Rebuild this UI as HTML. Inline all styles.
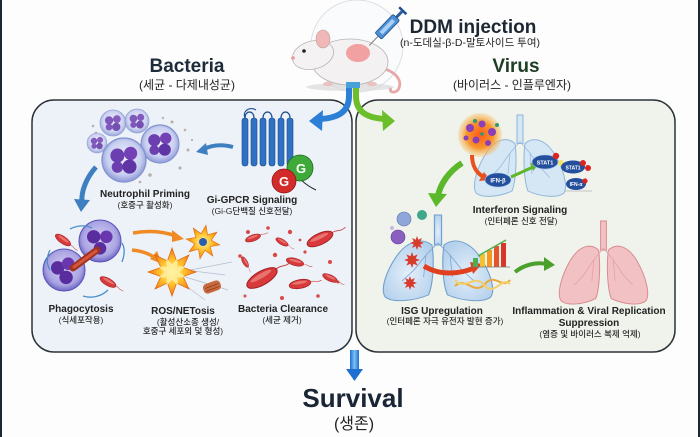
<!DOCTYPE html>
<html><head><meta charset="utf-8">
<style>
html,body{margin:0;padding:0;background:#fdfdfd;}
svg{display:block;}
text{font-family:"Liberation Sans","Noto Sans CJK KR",sans-serif;}
.lb{font-size:10px;font-weight:bold;fill:#222;}
.ks{font-size:8.5px;fill:#2a2a2a;font-weight:500;}
</style></head><body>
<svg width="700" height="437" viewBox="0 0 700 437" xmlns="http://www.w3.org/2000/svg">
<defs>
 <radialGradient id="cell" cx="50%" cy="45%" r="55%">
  <stop offset="0" stop-color="#f1f2fc"/><stop offset="0.7" stop-color="#c8cff0"/><stop offset="1" stop-color="#8c99d6"/>
 </radialGradient>
 <radialGradient id="pcell" cx="50%" cy="45%" r="55%">
  <stop offset="0" stop-color="#d9d3f3"/><stop offset="0.75" stop-color="#a9a3e3"/><stop offset="1" stop-color="#6d66c4"/>
 </radialGradient>
 <radialGradient id="burst" cx="50%" cy="50%" r="50%">
  <stop offset="0" stop-color="#fff6b0"/><stop offset="0.5" stop-color="#ffc22e"/><stop offset="1" stop-color="#f07a12"/>
 </radialGradient>
 <radialGradient id="vir" cx="50%" cy="50%" r="50%">
  <stop offset="0" stop-color="#ff5a1a"/><stop offset="0.6" stop-color="#f7962c"/><stop offset="1" stop-color="#f9c36a" stop-opacity="0.3"/>
 </radialGradient>
 <radialGradient id="lungb" cx="50%" cy="55%" r="60%">
  <stop offset="0" stop-color="#e4effa"/><stop offset="1" stop-color="#b3d0ec"/>
 </radialGradient>
 <linearGradient id="sv" x1="0" y1="0" x2="1" y2="0">
  <stop offset="0" stop-color="#1d6fd1"/><stop offset="0.5" stop-color="#7ec0f5"/><stop offset="1" stop-color="#1d6fd1"/>
 </linearGradient>
 <g id="neut">
  <circle r="10" fill="url(#cell)" stroke="#8593d0" stroke-width="0.6"/>
  <circle cx="-3" cy="-2" r="3.2" fill="#6b3fb0"/><circle cx="3" cy="-3" r="3" fill="#7440b5"/>
  <circle cx="2.5" cy="3" r="3.2" fill="#5f35a5"/><circle cx="-3" cy="3.2" r="2.6" fill="#6b3fb0"/>
 </g>
 <g id="bac">
  <path d="M9,0 c4,-2 6,2 11,0" stroke="#c44" fill="none" stroke-width="0.6"/>
  <ellipse rx="10" ry="4" fill="#d8393b" stroke="#9e1f22" stroke-width="0.6"/>
  <ellipse rx="7" ry="1.4" cy="-1.3" fill="#f08b86" opacity="0.7"/>
 </g>
 <polygon id="star" points="10,0 4.62,1.91 7.07,7.07 1.91,4.62 0,10 -1.91,4.62 -7.07,7.07 -4.62,1.91 -10,0 -4.62,-1.91 -7.07,-7.07 -1.91,-4.62 0,-10 1.91,-4.62 7.07,-7.07 4.62,-1.91"/>
 <g id="lobes">
  <path d="M45,30 C36,22 24,26 15,42 C6,58 2,75 6,82 C12,88 30,86 42,80 C46,70 47,45 45,30 Z"/>
  <path d="M55,30 C64,22 76,26 85,42 C94,58 98,75 94,82 C88,88 70,86 58,80 C54,70 53,45 55,30 Z"/>
  <path d="M47,0 L53,0 L53,30 L47,30 Z"/>
 </g>
 <path id="bron" d="M50,28 L40,40 L30,55 M40,40 L38,62 M30,55 L20,66 M50,28 L60,40 L70,55 M60,40 L62,62 M70,55 L80,66" fill="none"/>
</defs>

<!-- edges -->
<rect x="0" y="0" width="2" height="437" fill="#1b2733"/>
<rect x="698" y="0" width="2" height="437" fill="#1b2733"/>

<!-- panels -->
<rect x="32" y="100" width="320" height="252" rx="22" fill="#edf2f8" stroke="#2c3338" stroke-width="1.5"/>
<rect x="356" y="100" width="319" height="252" rx="22" fill="#eff3ec" stroke="#2c3338" stroke-width="1.5"/>

<!-- mouse -->
<circle cx="357" cy="46" r="46" fill="#fafbfc" stroke="#dcdfe3" stroke-width="1"/>
<ellipse cx="350" cy="87" rx="44" ry="4" fill="#d9d9d9" opacity="0.7"/>
<path d="M382,68 C396,72 402,80 399,88 C397,94 388,93 391,88" stroke="#e6a9a9" stroke-width="2.8" fill="none"/>
<ellipse cx="350" cy="62" rx="38" ry="23" fill="#f3f1f1" stroke="#b9b4b4" stroke-width="0.8"/>
<ellipse cx="313" cy="55" rx="21" ry="14" transform="rotate(-15 313 55)" fill="#f4f2f2" stroke="#b9b4b4" stroke-width="0.8"/>
<ellipse cx="323" cy="39" rx="7" ry="9" fill="#f1b7b7" stroke="#b9a0a0" stroke-width="0.6"/>
<circle cx="304" cy="51" r="1.8" fill="#222"/>
<circle cx="293" cy="58" r="1.8" fill="#e79a9a"/>
<ellipse cx="358" cy="53" rx="12" ry="9" fill="#ef7f7f" opacity="0.7"/>
<ellipse cx="328" cy="84" rx="5" ry="2.2" fill="#ebc0c0"/><ellipse cx="372" cy="84" rx="5" ry="2.2" fill="#ebc0c0"/>
<!-- syringe -->
<g transform="translate(388,26) rotate(-46)">
 <line x1="-14" y1="0" x2="-27" y2="0" stroke="#777" stroke-width="1"/>
 <rect x="-14" y="-4.5" width="26" height="9" rx="1.5" fill="#4d8fd6" stroke="#1f4f8c" stroke-width="0.8"/>
 <rect x="-10" y="-2" width="18" height="4" fill="#a8d2f5"/>
 <rect x="12" y="-1.5" width="8" height="3" fill="#2a5d9a"/>
 <rect x="20" y="-5" width="2.5" height="10" fill="#1f4f8c"/>
</g>

<!-- split arrows -->
<path d="M349,84 L349,96 C349,112 338,118 320,119" stroke="#2b7fd6" stroke-width="6" fill="none"/>
<polygon points="309,121 323,110 322,131" fill="#2b7fd6"/>
<path d="M356,84 L356,96 C356,112 367,118 385,119" stroke="#6cbf2a" stroke-width="6" fill="none"/>
<polygon points="395,121 382,110 383,131" fill="#6cbf2a"/>
<rect x="346" y="82" width="14" height="6" fill="#4aa0d8"/>

<!-- headings -->
<text x="473" y="33" text-anchor="middle" font-size="19" font-weight="bold" fill="#1c2733">DDM injection</text>
<text x="470" y="46" text-anchor="middle" font-size="10.5" fill="#222">(n-도데실-β-D-말토사이드 투여)</text>
<text x="187" y="72" text-anchor="middle" font-size="19" font-weight="bold" fill="#1d2b3a">Bacteria</text>
<text x="187" y="89" text-anchor="middle" font-size="12" fill="#222">(세균 - 다제내성균)</text>
<text x="516" y="72" text-anchor="middle" font-size="19" font-weight="bold" fill="#1f3d24">Virus</text>
<text x="512" y="89" text-anchor="middle" font-size="12" fill="#222">(바이러스 - 인플루엔자)</text>

<!-- LEFT PANEL -->
<g fill="#b9b0a8">
 <circle cx="172" cy="122" r="1.5"/><circle cx="185" cy="130" r="1.3"/><circle cx="188" cy="150" r="1.5"/><circle cx="180" cy="168" r="1.6"/>
 <circle cx="150" cy="175" r="1.8"/><circle cx="140" cy="182" r="1.3"/><circle cx="93" cy="126" r="1.3"/><circle cx="96" cy="133" r="1.4"/>
 <circle cx="163" cy="118" r="1.2"/><circle cx="192" cy="140" r="1.1"/>
</g>
<use href="#neut" transform="translate(113,123) scale(1.3)" opacity="0.85"/>
<use href="#neut" transform="translate(137,121) scale(1.2)" opacity="0.85"/>
<use href="#neut" transform="translate(97,143) scale(1.0)" opacity="0.85"/>
<use href="#neut" transform="translate(160,144) scale(1.9)"/>
<use href="#neut" transform="translate(124,160) scale(2.2)"/>
<!-- GPCR -->
<g fill="#2f72c4" stroke="#1b4c8c" stroke-width="0.6">
 <rect x="242" y="118" width="6" height="48" rx="2.5"/><rect x="251" y="118" width="6" height="48" rx="2.5"/>
 <rect x="260" y="118" width="6" height="48" rx="2.5"/><rect x="269" y="118" width="6" height="48" rx="2.5"/>
 <rect x="278" y="118" width="6" height="48" rx="2.5"/><rect x="287" y="118" width="6" height="48" rx="2.5"/>
</g>
<path d="M245,118 C245,110 254,110 254,118 M263,118 C263,110 272,110 272,118 M281,118 C281,110 290,110 290,118 M245,118 C242,111 250,106 256,110" stroke="#1b4c8c" stroke-width="1.2" fill="none"/>
<path d="M290,166 C296,176 305,185 316,190" stroke="#222" stroke-width="1" fill="none"/>
<circle cx="300" cy="168" r="13" fill="#3daa3a" stroke="#1f6a1d" stroke-width="0.8"/>
<text x="301" y="173" text-anchor="middle" font-size="13" font-weight="bold" fill="#fff">G</text>
<circle cx="284" cy="181" r="12" fill="#d32a2a" stroke="#8d1717" stroke-width="0.8"/>
<text x="284" y="186" text-anchor="middle" font-size="13" font-weight="bold" fill="#fff">G</text>
<path d="M233,147 C222,144 212,145 204,149" stroke="#3d7fc0" stroke-width="4" fill="none"/>
<polygon points="196,152 206,143 208,155" fill="#3d7fc0"/>
<path d="M96,167 C86,178 81,192 82,202" stroke="#3d7fc0" stroke-width="5" fill="none"/>
<polygon points="81,212 74,199 90,200" fill="#3d7fc0"/>
<!-- phagocytosis -->
<use href="#bac" transform="translate(63,240) rotate(35) scale(0.9)"/>
<use href="#bac" transform="translate(108,282) rotate(30) scale(0.9)"/>
<g transform="translate(100,241) scale(2.1)"><circle r="10" fill="url(#pcell)" stroke="#5a54b8" stroke-width="0.5"/><circle cx="-3" cy="-2" r="3.2" fill="#5a2d9f"/><circle cx="3" cy="-2" r="3" fill="#6a36ad"/><circle cx="0" cy="3.5" r="3" fill="#5a2d9f"/></g>
<g transform="translate(64,270) scale(2.1)"><circle r="10" fill="url(#pcell)" stroke="#5a54b8" stroke-width="0.5"/><circle cx="-3" cy="-1" r="3.2" fill="#5a2d9f"/><circle cx="2" cy="-3" r="3" fill="#6a36ad"/><circle cx="1" cy="3.5" r="3.2" fill="#5a2d9f"/></g>
<line x1="73" y1="268" x2="97" y2="250" stroke="#a2321f" stroke-width="7" stroke-linecap="round"/>
<line x1="74" y1="267" x2="96" y2="251" stroke="#d4573c" stroke-width="3" stroke-linecap="round"/>
<g stroke="#4a90c8" stroke-width="1.3" fill="none">
 <path d="M70,229 C78,225 86,225 92,228"/><path d="M50,250 C46,258 47,265 50,270"/><path d="M83,296 C92,299 102,296 108,290"/><path d="M122,262 C125,254 125,248 122,243"/>
</g>
<path d="M133,233 C150,230 165,232 176,236" stroke="#f08a24" stroke-width="3.5" fill="none"/>
<polygon points="184,239 172,230 172,242" fill="#f08a24"/>
<path d="M132,250 C142,251 150,254 155,258" stroke="#f08a24" stroke-width="3.5" fill="none"/>
<polygon points="162,264 150,259 157,251" fill="#f08a24"/>
<g stroke="#b5bccd" stroke-width="0.7"><line x1="180" y1="272" x2="232" y2="262"/><line x1="182" y1="276" x2="228" y2="290"/><line x1="178" y1="280" x2="205" y2="300"/><line x1="185" y1="270" x2="225" y2="275"/></g>
<use href="#star" transform="translate(203,242) scale(1.7) rotate(10)" fill="url(#burst)" stroke="#e07412" stroke-width="0.4"/>
<circle cx="203" cy="242" r="4" fill="#2a5fb0"/>
<use href="#star" transform="translate(172,272) scale(2.4)" fill="url(#burst)" stroke="#e06010" stroke-width="0.3"/>
<use href="#star" transform="translate(172,272) scale(1.5) rotate(22)" fill="#fff1a0" opacity="0.8"/>
<g transform="translate(212,287) rotate(-20)"><rect x="-9" y="-5" width="18" height="10" rx="4" fill="#c86a3e"/><line x1="-7" y1="-1" x2="7" y2="-1" stroke="#8d3f1f" stroke-width="0.8"/><line x1="-7" y1="2" x2="7" y2="2" stroke="#8d3f1f" stroke-width="0.8"/></g>
<g fill="#d9494a">
 <circle cx="248" cy="232" r="2"/><circle cx="268" cy="228" r="1.8"/><circle cx="290" cy="232" r="2.2"/><circle cx="305" cy="252" r="1.6"/>
 <circle cx="275" cy="255" r="2.2"/><circle cx="240" cy="256" r="1.8"/><circle cx="330" cy="262" r="2"/><circle cx="318" cy="296" r="1.8"/>
 <circle cx="338" cy="282" r="1.5"/><circle cx="245" cy="296" r="1.5"/><circle cx="282" cy="298" r="2"/><circle cx="300" cy="240" r="1.4"/>
</g>
<use href="#bac" transform="translate(253,238) rotate(-20) scale(0.8)"/>
<use href="#bac" transform="translate(282,242) rotate(30) scale(0.7)"/>
<use href="#bac" transform="translate(320,239) rotate(-25) scale(1.4)"/>
<use href="#bac" transform="translate(295,262) rotate(15) scale(0.9)"/>
<use href="#bac" transform="translate(262,278) rotate(-30) scale(1.7)"/>
<use href="#bac" transform="translate(300,284) rotate(-10) scale(1.1)"/>
<use href="#bac" transform="translate(330,278) rotate(25) scale(0.8)"/>
<use href="#bac" transform="translate(245,262) rotate(60) scale(0.6)"/>
<text class="lb" x="145" y="197" text-anchor="middle">Neutrophil Priming</text>
<text class="ks" x="145" y="208" text-anchor="middle">(호중구 활성화)</text>
<text class="lb" x="252" y="203" text-anchor="middle">Gi-GPCR Signaling</text>
<text class="ks" x="252" y="214" text-anchor="middle">(Gi-G단백질 신호전달)</text>
<text class="lb" x="81" y="312" text-anchor="middle">Phagocytosis</text>
<text class="ks" x="81" y="323" text-anchor="middle">(식세포작용)</text>
<text class="lb" x="183" y="314" text-anchor="middle">ROS/NETosis</text>
<text class="ks" x="188" y="325" text-anchor="middle">(활성산소종 생성/</text>
<text class="ks" x="183" y="334" text-anchor="middle">호중구 세포외 덫 형성)</text>
<text class="lb" x="283" y="312" text-anchor="middle">Bacteria Clearance</text>
<text class="ks" x="282" y="323" text-anchor="middle">(세균 제거)</text>

<!-- RIGHT PANEL -->
<g transform="translate(470,115) scale(1.0,0.95)">
 <use href="#lobes" fill="#d5e6f5" stroke="#8fb6da" stroke-width="1"/>
 <use href="#bron" stroke="#9cbde0" stroke-width="0.8"/>
</g>
<circle cx="480" cy="135" r="22" fill="url(#vir)"/>
<g fill="#8a3fb8"><circle cx="470" cy="128" r="4"/><circle cx="482" cy="124" r="3.5"/><circle cx="492" cy="132" r="4"/><circle cx="476" cy="140" r="3.5"/><circle cx="488" cy="143" r="3"/><circle cx="466" cy="138" r="2.5"/></g>
<g fill="#2a9a7a"><circle cx="475" cy="121" r="2"/><circle cx="497" cy="125" r="2"/><circle cx="482" cy="134" r="1.8"/></g>
<path d="M472,155 C472,165 476,173 484,177" stroke="#e8501e" stroke-width="4" fill="none"/>
<polygon points="490,180 479,181 484,172" fill="#e8501e"/>
<path d="M511,177 L533,167" stroke="#5fb52b" stroke-width="3" fill="none"/>
<polygon points="539,164 530,163 533,171" fill="#5fb52b"/>
<ellipse cx="498" cy="180" rx="13" ry="7" fill="#234f9c" stroke="#9fc0ea" stroke-width="0.6"/>
<text x="498" y="182.5" text-anchor="middle" font-size="6" font-weight="bold" fill="#fff">IFN-β</text>
<ellipse cx="545" cy="162" rx="13" ry="7" fill="#234f9c" stroke="#9fc0ea" stroke-width="0.6"/>
<text x="545" y="164.5" text-anchor="middle" font-size="5.5" font-weight="bold" fill="#fff">STAT1</text>
<circle cx="556" cy="156" r="3.2" fill="#d22"/>
<circle cx="561" cy="163" r="3" fill="#f6e36a"/>
<ellipse cx="573" cy="167" rx="12" ry="6.5" fill="#234f9c"/>
<text x="573" y="169.5" text-anchor="middle" font-size="5" font-weight="bold" fill="#fff">STAT1</text>
<circle cx="583" cy="163" r="3" fill="#d22"/><circle cx="588" cy="168" r="3" fill="#d22"/>
<ellipse cx="576" cy="184" rx="10" ry="6" fill="#234f9c"/>
<text x="576" y="186" text-anchor="middle" font-size="5" font-weight="bold" fill="#fff">IFN-α</text>
<circle cx="585" cy="181" r="2.6" fill="#d22"/>
<line x1="565" y1="191" x2="592" y2="191" stroke="#999" stroke-width="0.5"/>
<path d="M462,163 C448,172 440,185 438,196" stroke="#5cb82b" stroke-width="6" fill="none"/>
<polygon points="436,207 428,193 447,194" fill="#5cb82b"/>
<!-- bottom lungs -->
<g transform="translate(378,215) scale(1.2,1.0)">
 <use href="#lobes" fill="url(#lungb)" stroke="#6f9dcc" stroke-width="0.9"/>
 <use href="#bron" stroke="#7ea6d4" stroke-width="0.7"/>
</g>
<g fill="#d83a2c"><use href="#star" transform="translate(417,243) scale(0.7)"/><use href="#star" transform="translate(412,260) scale(0.8)"/><use href="#star" transform="translate(410,283) scale(0.7)"/></g>
<circle cx="398" cy="237" r="7" fill="#8a5fc0" stroke="#5b3a95" stroke-width="0.6"/>
<circle cx="404" cy="219" r="7" fill="#8fa6d8" stroke="#5b6fa5" stroke-width="0.6"/>
<circle cx="422" cy="215" r="5" fill="#3fa78a"/>
<circle cx="392" cy="228" r="2" fill="#c8b8e0"/>
<path d="M424,266 C440,276 460,274 474,268" stroke="#e0401e" stroke-width="5" fill="none"/>
<polygon points="482,264 470,262 473,274" fill="#e0401e"/>
<g>
 <rect x="473" y="258" width="5" height="9" fill="#4caf50"/>
 <rect x="480" y="254" width="5" height="13" fill="#f2c230"/>
 <rect x="487" y="250" width="5" height="17" fill="#f39a1e"/>
 <rect x="494" y="246" width="5" height="21" fill="#e8542a"/>
 <rect x="501" y="243" width="5" height="24" fill="#d9362a"/>
 <line x1="471" y1="267" x2="510" y2="267" stroke="#777" stroke-width="0.8"/>
 <path d="M478,256 L492,248 L506,240" stroke="#4caf50" stroke-width="1.5" fill="none"/>
</g>
<path d="M455,286 C465,276 475,296 485,284 C495,272 502,290 510,280" stroke="#e9a93a" stroke-width="2" fill="none"/>
<path d="M455,280 C465,292 475,272 485,286 C495,296 502,276 510,284" stroke="#f3cf6a" stroke-width="2" fill="none"/>
<path d="M515,272 C525,264 538,262 546,264" stroke="#4aa02a" stroke-width="4" fill="none"/>
<polygon points="555,265 544,257 544,271" fill="#4aa02a"/>
<g transform="translate(555,221) scale(0.97,0.97)">
 <use href="#lobes" fill="#f2c1c3" stroke="#d98a90" stroke-width="1"/>
 <use href="#bron" stroke="#e2a0a6" stroke-width="0.8"/>
</g>
<text class="lb" x="520" y="213" text-anchor="middle">Interferon Signaling</text>
<text class="ks" x="521" y="224" text-anchor="middle">(인터페론 신호 전달)</text>
<text class="lb" x="442" y="314" text-anchor="middle">ISG Upregulation</text>
<text class="ks" x="445" y="324" text-anchor="middle">(인터페론 자극 유전자 발현 증가)</text>
<text class="lb" x="589" y="314" text-anchor="middle">Inflammation &amp; Viral Replication</text>
<text class="lb" x="589" y="326" text-anchor="middle">Suppression</text>
<text class="ks" x="590" y="337" text-anchor="middle">(염증 및 바이러스 복제 억제)</text>

<!-- survival -->
<rect x="350" y="350" width="9" height="21" fill="url(#sv)"/>
<polygon points="346,369 363,369 354.5,381" fill="#1d6fd1"/>
<text x="353" y="407" text-anchor="middle" font-size="26" font-weight="bold" fill="#1a2636">Survival</text>
<text x="354" y="429" text-anchor="middle" font-size="16" fill="#222">(생존)</text>
</svg>
</body></html>
